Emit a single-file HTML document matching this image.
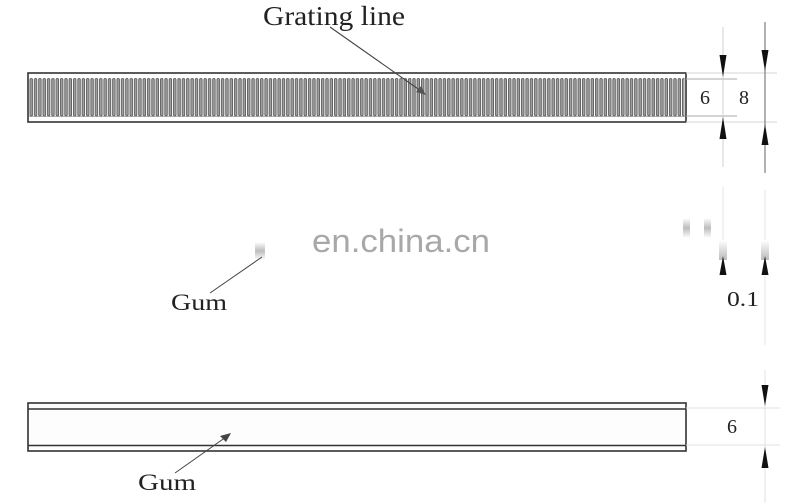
<!DOCTYPE html>
<html><head><meta charset="utf-8"><style>
html,body{margin:0;padding:0;background:#fff;}
svg{display:block;}
</style></head><body>
<svg width="800" height="503" viewBox="0 0 800 503" xmlns="http://www.w3.org/2000/svg">
<defs>
<pattern id="gr" x="29" y="0" width="4.35" height="503" patternUnits="userSpaceOnUse">
<rect x="0.9" y="78.5" width="2.6" height="37.5" rx="1.3" fill="#9e9e9e" stroke="#484848" stroke-width="0.7"/>
</pattern>
<linearGradient id="fadeUp" x1="0" y1="0" x2="0" y2="1">
<stop offset="0" stop-color="#fff"/><stop offset="1" stop-color="#bbb"/>
</linearGradient>
<linearGradient id="blurG" x1="0" y1="0" x2="0" y2="1">
<stop offset="0" stop-color="#fff"/><stop offset="0.5" stop-color="#bdbdbd"/><stop offset="1" stop-color="#fff"/>
</linearGradient>
</defs>

<!-- Top grating bar -->
<rect x="28" y="73" width="658" height="49" fill="#fff" stroke="#333" stroke-width="1.6"/>
<rect x="29.5" y="77" width="655" height="40" fill="url(#gr)"/>
<line x1="29" y1="116.5" x2="685" y2="116.5" stroke="#666" stroke-width="0.6"/>

<!-- Grating line label -->
<text x="263" y="25" font-family="Liberation Serif, serif" font-size="27" fill="#222" textLength="142" lengthAdjust="spacingAndGlyphs">Grating line</text>
<line x1="330" y1="27" x2="421" y2="91" stroke="#444" stroke-width="1.1"/>
<polygon points="426,95 416,92 421,86" fill="#555"/>

<!-- top-right dimensions -->
<line x1="686" y1="73" x2="777" y2="73" stroke="#d4d4d4" stroke-width="1"/>
<line x1="686" y1="122" x2="777" y2="122" stroke="#d4d4d4" stroke-width="1"/>
<line x1="686" y1="79" x2="737" y2="79" stroke="#aaa" stroke-width="1"/>
<line x1="686" y1="116" x2="737" y2="116" stroke="#aaa" stroke-width="1"/>
<line x1="723" y1="27" x2="723" y2="167" stroke="#d0d0d0" stroke-width="1"/>
<line x1="765" y1="22" x2="765" y2="173" stroke="#666" stroke-width="1"/>
<polygon points="719.5,55 726.5,55 723,77" fill="#111"/>
<polygon points="719.5,139 726.5,139 723,117" fill="#111"/>
<polygon points="761.5,50 768.5,50 765,71" fill="#111"/>
<polygon points="761.5,145 768.5,145 765,124" fill="#111"/>
<text x="705" y="104" font-family="Liberation Serif, serif" font-size="20" fill="#222" text-anchor="middle">6</text>
<text x="744" y="104" font-family="Liberation Serif, serif" font-size="20" fill="#222" text-anchor="middle">8</text>

<!-- watermark -->
<text x="312" y="252" font-family="Liberation Sans, sans-serif" font-size="32" fill="#a8a8a8" textLength="178" lengthAdjust="spacingAndGlyphs">en.china.cn</text>

<!-- middle Gum -->
<rect x="255" y="242" width="10" height="18" fill="url(#blurG)"/>
<line x1="210" y1="293" x2="262" y2="257" stroke="#444" stroke-width="1"/>
<text x="171" y="310" font-family="Liberation Serif, serif" font-size="23" fill="#222" textLength="56" lengthAdjust="spacingAndGlyphs">Gum</text>

<!-- middle right faint items -->
<rect x="683" y="218" width="7" height="20" fill="url(#blurG)"/>
<rect x="704" y="218" width="7" height="20" fill="url(#blurG)"/>
<line x1="723" y1="187" x2="723" y2="275" stroke="#e6e6e6" stroke-width="1"/>
<line x1="765" y1="190" x2="765" y2="345" stroke="#e6e6e6" stroke-width="1"/>
<rect x="719" y="240" width="8" height="20" fill="url(#fadeUp)"/>
<rect x="761" y="240" width="8" height="20" fill="url(#fadeUp)"/>
<polygon points="723,256 719.5,275 726.5,275" fill="#111"/>
<polygon points="765,256 761.5,275 768.5,275" fill="#111"/>
<text x="727" y="306" font-family="Liberation Serif, serif" font-size="21" fill="#222" textLength="32" lengthAdjust="spacingAndGlyphs">0.1</text>

<!-- bottom bar -->
<rect x="28" y="403" width="658" height="48" fill="#fdfdfd" stroke="#333" stroke-width="1.6"/>
<line x1="28" y1="409" x2="686" y2="409" stroke="#333" stroke-width="1.6"/>
<line x1="28" y1="445.5" x2="686" y2="445.5" stroke="#333" stroke-width="1.6"/>

<!-- bottom Gum -->
<line x1="175" y1="473" x2="226" y2="437" stroke="#444" stroke-width="1"/>
<polygon points="231,433 220,436 226,442" fill="#444"/>
<text x="138" y="490" font-family="Liberation Serif, serif" font-size="23" fill="#222" textLength="58" lengthAdjust="spacingAndGlyphs">Gum</text>

<!-- bottom right dimensions -->
<line x1="686" y1="408" x2="780" y2="408" stroke="#e0e0e0" stroke-width="1"/>
<line x1="686" y1="445" x2="780" y2="445" stroke="#e0e0e0" stroke-width="1"/>
<line x1="765" y1="370" x2="765" y2="503" stroke="#e0e0e0" stroke-width="1"/>
<polygon points="761.5,385 768.5,385 765,406" fill="#111"/>
<polygon points="761.5,468 768.5,468 765,447" fill="#111"/>
<text x="732" y="433" font-family="Liberation Serif, serif" font-size="20" fill="#222" text-anchor="middle">6</text>
</svg>
</body></html>
